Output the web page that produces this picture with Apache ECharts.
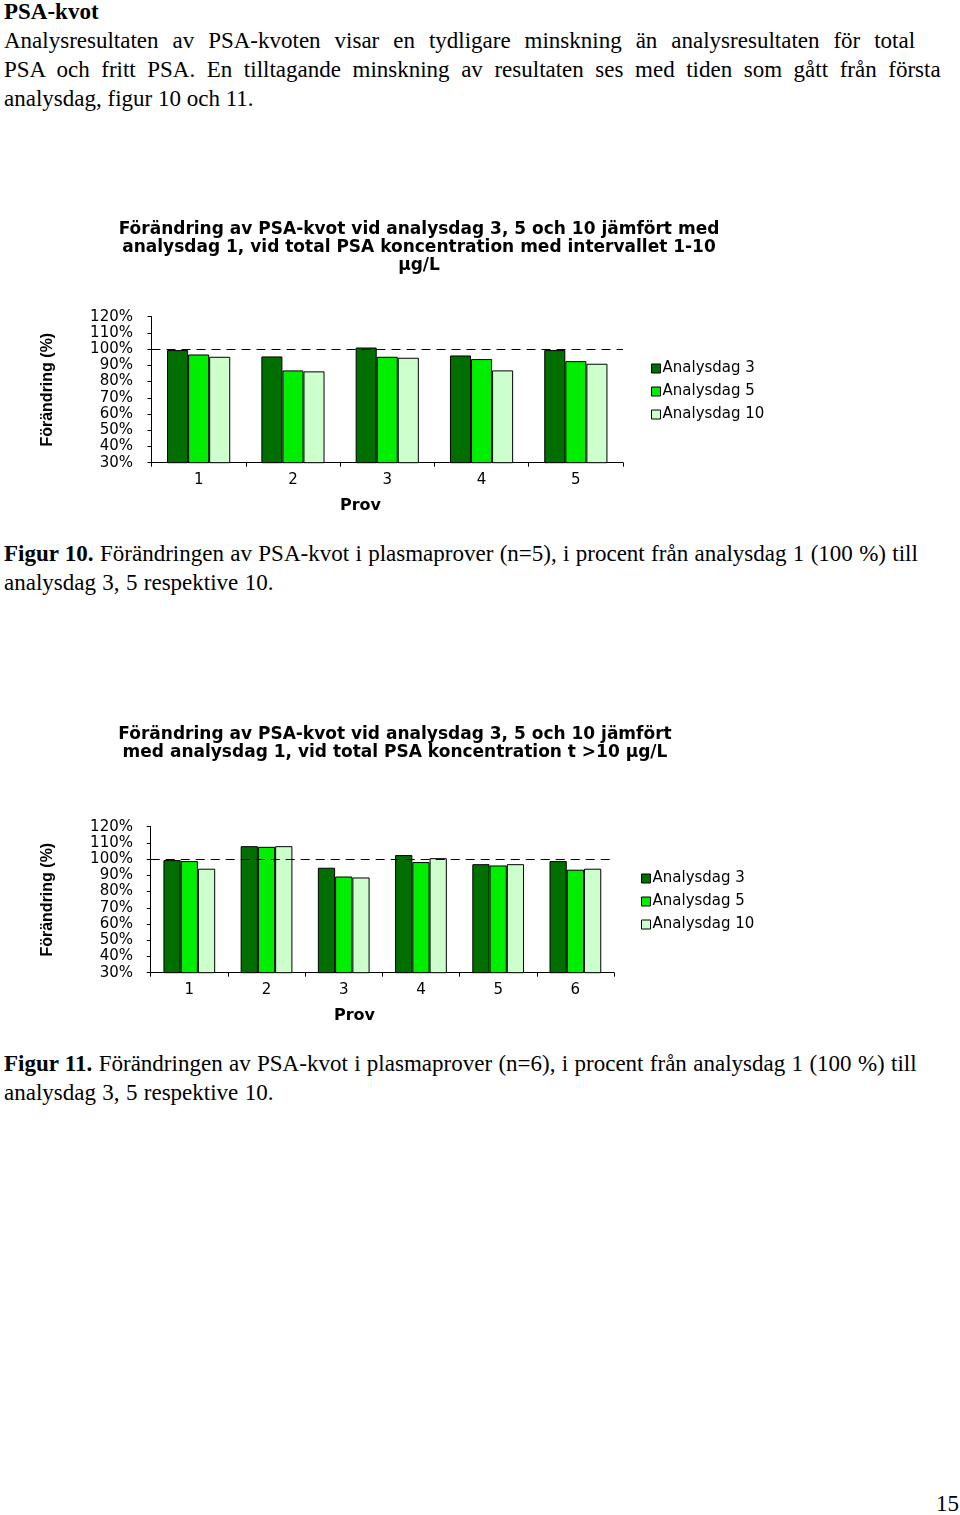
<!DOCTYPE html>
<html><head><meta charset="utf-8">
<script src="https://cdn.jsdelivr.net/npm/echarts@6/dist/echarts.min.js"></script>
<style>
body{margin:0;background:#fff;width:960px;height:1515px;position:relative;overflow:hidden;font-family:"Liberation Serif","Times New Roman",serif;color:#000;}
.t{position:absolute;left:4px;font-size:23px;line-height:29px;white-space:nowrap;}
#c1{position:absolute;left:0;top:200px;width:960px;height:330px;}
#c2{position:absolute;left:0;top:700px;width:960px;height:340px;}
</style></head><body>
<div class="t" style="top:-3px;font-weight:bold;">PSA-kvot</div>
<div class="t" style="top:26px;word-spacing:8.2px;">Analysresultaten av PSA-kvoten visar en tydligare minskning än analysresultaten för total</div>
<div class="t" style="top:55px;word-spacing:5.8px;">PSA och fritt PSA. En tilltagande minskning av resultaten ses med tiden som gått från första</div>
<div class="t" style="top:84px;">analysdag, figur 10 och 11.</div>
<div id="c1"></div>
<div class="t" style="top:539px;word-spacing:0.6px;"><b>Figur 10.</b> Förändringen av PSA-kvot i plasmaprover (n=5), i procent från analysdag 1 (100 %) till<br>analysdag 3, 5 respektive 10.</div>
<div id="c2"></div>
<div class="t" style="top:1049px;word-spacing:0.6px;"><b>Figur 11.</b> Förändringen av PSA-kvot i plasmaprover (n=6), i procent från analysdag 1 (100 %) till<br>analysdag 3, 5 respektive 10.</div>
<div class="t" style="top:1489px;left:936px;">15</div>
<script>
// Figure 10 data
const cats1 = ['1','2','3','4','5'];
const dag3_1 = [99.4, 95.5, 101.0, 96.1, 99.4];
const dag5_1 = [96.7, 86.9, 95.3, 93.9, 92.6];
const dag10_1 = [95.3, 86.3, 94.7, 86.9, 91.0];
// Figure 11 data
const cats2 = ['1','2','3','4','5','6'];
const dag3_2 = [99.4, 108.0, 94.7, 102.5, 96.9, 98.8];
const dag5_2 = [98.8, 107.6, 89.3, 98.2, 96.1, 93.5];
const dag10_2 = [94.1, 108.0, 88.7, 100.6, 96.9, 94.1];
const seriesNames = ['Analysdag 3','Analysdag 5','Analysdag 10'];
const colors = ['#006f00','#00ee00','#ccffcc'];
const yTicks = {min:30, max:120, interval:10};

function makeOption(cats, d3, d5, d10, L){
  const font = 'DejaVu Sans';
  const mk = (name, data, i) => {
    const s = {name, type:'bar', data, barGap:'0%', barCategoryGap:'33%',
      itemStyle:{color:colors[i], borderColor:'#000', borderWidth:1}, animation:false};
    if(i===0){
      s.markLine = {silent:true, symbol:['none','none'], label:{show:false},
        lineStyle:{color:'#000', type:[9,6], width:1}, data:[{yAxis:100}]};
    }
    return s;
  };
  return {
    animation:false,
    color:colors,
    title:{text:L.title, left:L.titleX, top:L.titleTop, textAlign:'center', padding:0,
      textStyle:{fontFamily:font, fontWeight:'bold', fontSize:17, lineHeight:18, color:'#000'}},
    legend:{orient:'vertical', left:L.legX, top:L.legY, padding:0, itemWidth:9, itemHeight:9, itemGap:8,
      icon:'rect', textStyle:{fontFamily:font, fontSize:15, color:'#000', padding:[0,0,0,-3]},
      itemStyle:{borderColor:'#000', borderWidth:1}},
    grid:{left:L.gl, top:L.gt, width:L.gw, height:146},
    xAxis:{type:'category', data:cats,
      axisLine:{lineStyle:{color:'#000', width:1}},
      axisTick:{show:true, length:4, inside:false, lineStyle:{color:'#000'}},
      axisLabel:{fontFamily:font, fontSize:15, color:'#000', margin:10}},
    yAxis:{type:'value', min:yTicks.min, max:yTicks.max, interval:yTicks.interval,
      name:'Förändring (%)', nameLocation:'middle', nameGap:L.gl-56,
      nameTextStyle:{fontFamily:'"Liberation Sans Narrow", "Liberation Sans"', fontWeight:'bold', fontSize:16, color:'#000'},
      axisLine:{show:true, lineStyle:{color:'#000'}},
      axisTick:{show:true, length:4, lineStyle:{color:'#000'}},
      splitLine:{show:false},
      axisLabel:{fontFamily:font, fontSize:15, color:'#000', margin:L.gl-133, formatter:'{value}%'}},
    graphic:[{type:'text', left:L.provX, top:L.provY,
      style:{text:'Prov', font:'bold 16px "DejaVu Sans"', fill:'#000'}}],
    series:[mk(seriesNames[0], d3, 0), mk(seriesNames[1], d5, 1), mk(seriesNames[2], d10, 2)]
  };
}

const c1 = echarts.init(document.getElementById('c1'));
c1.setOption(makeOption(cats1, dag3_1, dag5_1, dag10_1, {
  title:'Förändring av PSA-kvot vid analysdag 3, 5 och 10 jämfört med\nanalysdag 1, vid total PSA koncentration med intervallet 1-10\nµg/L',
  titleX:419, titleTop:21, legX:651, legY:161, gl:151.5, gt:116.7, gw:471.5, provX:340, provY:298
}));
const c2 = echarts.init(document.getElementById('c2'));
c2.setOption(makeOption(cats2, dag3_2, dag5_2, dag10_2, {
  title:'Förändring av PSA-kvot vid analysdag 3, 5 och 10 jämfört\nmed analysdag 1, vid total PSA koncentration t >10 µg/L',
  titleX:395, titleTop:26, legX:641, legY:171, gl:150.7, gt:126.7, gw:463.3, provX:334, provY:308
}));
</script>
</body></html>
